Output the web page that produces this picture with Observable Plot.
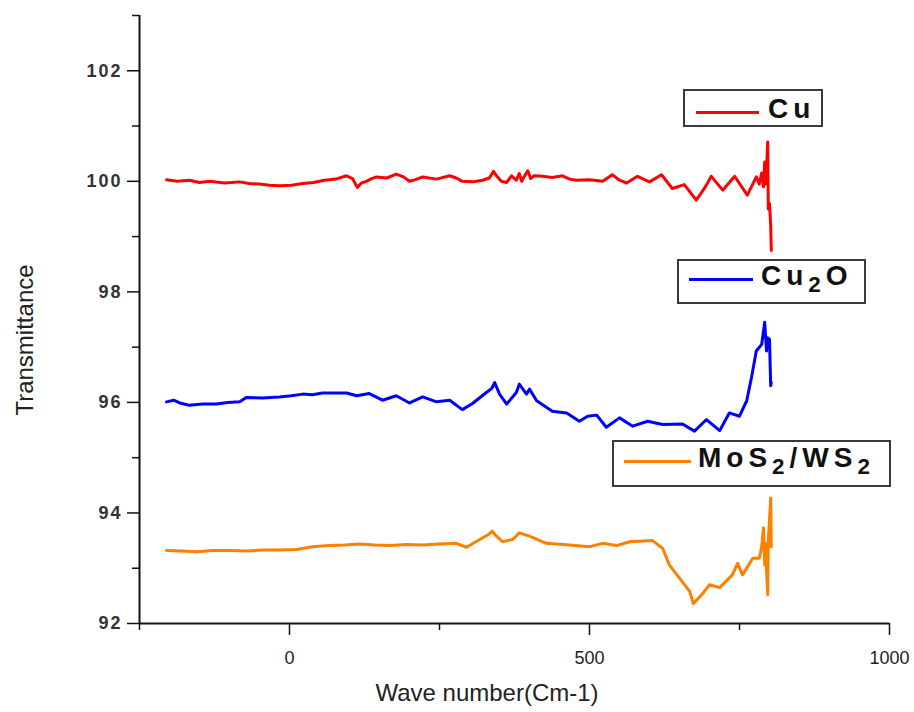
<!DOCTYPE html>
<html><head><meta charset="utf-8">
<script src="https://cdn.jsdelivr.net/npm/d3@7"></script>
<script src="https://cdn.jsdelivr.net/npm/@observablehq/plot@0.6"></script>
<style>
body{margin:0;background:#fff;}
#wrap{position:relative;width:914px;height:712px;font-family:"Liberation Sans",Arial,sans-serif;background:#fff;overflow:hidden;}
#wrap svg{position:absolute;left:0;top:0;}
.legend{position:absolute;border:2px solid #3a3a3a;background:#fff;box-sizing:border-box;}
.legend .swatch{position:absolute;height:3px;}
.legend .lab{position:absolute;font-weight:bold;font-size:28px;letter-spacing:5px;color:#111;line-height:1;white-space:nowrap;}
.legend sub{font-size:0.8em;position:relative;top:0.3em;vertical-align:baseline;line-height:0;}
.title{position:absolute;font-size:24px;color:#222;white-space:nowrap;line-height:1;}
</style></head>
<body><div id="wrap"></div>
<script>
// ---- data ----
const seriesNames = ["Cu", "Cu2O", "MoS2/WS2"];
const seriesColors = ["#ff0000", "#0000ff", "#ff7f00"];

const cuWave = [-205,-187,-167,-150,-133,-108,-83,-67,-50,-33,-17,3,22,40,58,77,95,105,113,120,128,137,145,162,178,190,200,210,222,245,267,278,288,305,322,333,340,345,353,362,370,378,383,387,393,397,402,408,422,438,455,467,478,500,522,538,550,562,580,600,620,638,658,678,692,703,722,742,763,778,783,787,790,792,793,795,797,798,800,802,803];
const cuT = [100.03,100.0,100.02,99.98,100.0,99.97,99.99,99.96,99.95,99.93,99.92,99.93,99.96,99.98,100.02,100.04,100.1,100.05,99.89,99.97,100.0,100.05,100.08,100.06,100.13,100.08,100.0,100.03,100.08,100.04,100.1,100.06,100.0,99.99,100.02,100.06,100.18,100.1,100.0,99.98,100.1,100.02,100.14,100.0,100.12,100.19,100.05,100.1,100.09,100.07,100.1,100.04,100.02,100.03,100.0,100.12,100.02,99.97,100.09,99.99,100.12,99.87,99.94,99.66,99.88,100.09,99.84,100.09,99.75,100.08,99.95,100.15,99.9,100.35,99.95,100.2,100.71,99.5,99.6,99.2,98.75];

const cu2oWave = [-205,-193,-183,-167,-145,-122,-103,-83,-72,-45,-17,3,22,38,55,75,95,112,133,155,178,200,222,245,267,288,305,328,337,342,350,362,378,383,395,400,412,438,462,483,497,512,528,550,572,597,622,655,675,695,717,733,750,762,770,778,787,792,795,797,800,802,803];
const cu2oT = [96.01,96.04,95.99,95.95,95.97,95.97,96.0,96.01,96.09,96.08,96.1,96.12,96.15,96.14,96.17,96.17,96.17,96.12,96.16,96.04,96.12,95.99,96.1,96.01,96.04,95.87,95.98,96.18,96.25,96.36,96.15,95.97,96.18,96.33,96.15,96.24,96.03,95.84,95.81,95.66,95.75,95.77,95.55,95.72,95.57,95.66,95.6,95.61,95.48,95.69,95.49,95.81,95.75,96.03,96.45,96.93,97.05,97.45,96.93,97.17,97.14,96.3,96.36];

const mosWave = [-205,-180,-155,-128,-100,-72,-45,-17,12,38,67,92,117,142,167,195,222,250,278,295,317,333,338,345,355,372,383,400,428,467,500,522,545,567,605,622,633,650,667,673,687,700,717,738,747,755,772,783,787,790,792,793,797,798,802,803];
const mosT = [93.32,93.31,93.3,93.32,93.32,93.31,93.33,93.33,93.34,93.39,93.41,93.42,93.44,93.42,93.41,93.43,93.42,93.44,93.45,93.38,93.52,93.62,93.67,93.58,93.48,93.52,93.64,93.58,93.45,93.42,93.39,93.45,93.41,93.48,93.5,93.36,93.06,92.82,92.58,92.36,92.52,92.7,92.65,92.88,93.09,92.88,93.18,93.18,93.39,93.73,93.06,93.45,92.52,93.48,94.27,93.39];

const yMajor = [92, 94, 96, 98, 100, 102];
const yMinor = [93, 95, 97, 99, 101, 103];
const xMajor = [0, 500, 1000];
const xMinor = [-250, 250, 750];

// ---- build ----
const rows = [
  ...cuWave.map((w, i) => ({series: seriesNames[0], wave: w, t: cuT[i]})),
  ...cu2oWave.map((w, i) => ({series: seriesNames[1], wave: w, t: cu2oT[i]})),
  ...mosWave.map((w, i) => ({series: seriesNames[2], wave: w, t: mosT[i]}))
];

const chart = Plot.plot({
  width: 914, height: 712,
  marginLeft: 139, marginRight: 25, marginTop: 15, marginBottom: 89,
  x: {domain: [-250, 1000]},
  y: {domain: [92, 103]},
  color: {domain: seriesNames, range: seriesColors},
  style: {fontFamily: "'Liberation Sans', Arial, sans-serif", background: "white", color: "#111"},
  marks: [
    Plot.axisY({ticks: yMajor, tickSize: 12, tickPadding: 5, fontSize: 18, fontWeight: "bold", fill: "#333", label: null, strokeWidth: 1.5, tickFormat: d => String(d)}),
    Plot.axisY({ticks: yMinor, tickSize: 7, label: null, strokeWidth: 1.5, tickFormat: () => ""}),
    Plot.axisX({ticks: xMajor, tickSize: 12, tickPadding: 16, fontSize: 18, fill: "#222", label: null, strokeWidth: 1.5, tickFormat: d => String(d)}),
    Plot.axisX({ticks: xMinor, tickSize: 7, label: null, strokeWidth: 1.5, tickFormat: () => ""}),
    Plot.ruleX([-250], {stroke: "#111", strokeWidth: 2}),
    Plot.ruleY([92], {stroke: "#111", strokeWidth: 2}),
    Plot.line(rows, {x: "wave", y: "t", z: "series", stroke: "series", strokeWidth: 3, strokeLinejoin: "round"})
  ]
});
const wrap = document.getElementById("wrap");
wrap.appendChild(chart);
d3.select(chart).selectAll("g[aria-label='y-axis tick label'] text").attr("letter-spacing", "2px");

// titles
function addDiv(cls, html, css) {
  const d = document.createElement("div");
  d.className = cls; d.innerHTML = html;
  Object.assign(d.style, css);
  wrap.appendChild(d);
  return d;
}
addDiv("title", "Transmittance", {left: "25px", top: "340px", transform: "translate(-50%,-50%) rotate(-90deg)"});
addDiv("title", "Wave number(Cm-1)", {left: "487px", top: "693px", transform: "translate(-50%,-50%)"});

// legends
const legends = [
  {box: [683, 89, 140, 38], sw: [11, 19.5, 63], lab: [83, 4], html: "Cu"},
  {box: [677, 259, 189, 45], sw: [10, 16.5, 64], lab: [82, 1], html: "Cu<sub>2</sub>O"},
  {box: [612, 440, 279, 47], sw: [10, 17.5, 67], lab: [84, 2], html: "MoS<sub>2</sub>/WS<sub>2</sub>"}
];
legends.forEach((L, i) => {
  const b = document.createElement("div");
  b.className = "legend";
  Object.assign(b.style, {left: L.box[0] + "px", top: L.box[1] + "px", width: L.box[2] + "px", height: L.box[3] + "px"});
  const s = document.createElement("div");
  s.className = "swatch";
  Object.assign(s.style, {left: L.sw[0] + "px", top: L.sw[1] + "px", width: L.sw[2] + "px", background: seriesColors[i]});
  const t = document.createElement("div");
  t.className = "lab"; t.innerHTML = L.html;
  Object.assign(t.style, {left: L.lab[0] + "px", top: L.lab[1] + "px"});
  b.appendChild(s); b.appendChild(t);
  wrap.appendChild(b);
});
</script>
</body></html>
